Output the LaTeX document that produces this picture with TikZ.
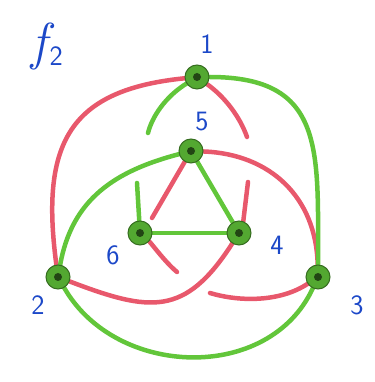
\documentclass[tikz,border=0pt]{standalone}
\usepackage{fontspec}
\usepackage{tikz}
\usetikzlibrary{backgrounds}
\definecolor{knotred}{RGB}{232, 88, 108}
\definecolor{knotgreen}{RGB}{98, 198, 58}
\definecolor{inkblue}{RGB}{28, 72, 200}

\begin{document}
\begin{tikzpicture}[
  x=1pt, y=1pt,
  vertex/.style={
    circle, inner sep=0pt, minimum size=24pt,
    fill=knotgreen!85!black, draw=knotgreen!55!black, line width=1pt
  },
  hub/.style={circle, inner sep=0pt, minimum size=8pt, fill=knotgreen!35!black},
  num/.style={text=inkblue, font=\sffamily\fontsize{28}{28}\selectfont},
  redline/.style={draw=knotred, line width=4.5pt, line cap=round},
  greenline/.style={draw=knotgreen, line width=4.5pt, line cap=round}
]
\useasboundingbox (0,0) rectangle (374,382);

\node[vertex] (v1) at (197,305) {};
\node[vertex] (v5) at (191,231) {};
\node[vertex] (v6) at (140,149) {};
\node[vertex] (v4) at (239,149) {};
\node[vertex] (v2) at (58,105) {};
\node[vertex] (v3) at (318,105) {};
\foreach \v in {v1,v5,v6,v4,v2,v3}
  \node[hub] at (\v) {};

\node[num] (l1) at (207,338) {1};
\node[num] (l5) at (202,260) {5};
\node[num] (l6) at (113,127) {6};
\node[num] (l4) at (277,137) {4};
\node[num] (l2) at (38,77)   {2};
\node[num] (l3) at (357,77)  {3};
\node[text=inkblue, inner sep=0pt] (title) at (47,335)
  {\fontsize{52}{52}\selectfont\itshape f\kern3pt\raisebox{-6pt}{\upshape\sffamily\fontsize{28}{28}\selectfont 2}};

\coordinate (r1e) at (247,245);
\coordinate (r5e) at (152,164);
\coordinate (r6e) at (177,110);
\coordinate (r4e) at (248,200);
\coordinate (r3e) at (210,89);
\coordinate (g1e) at (148,249);
\coordinate (g6e) at (137,199);

\begin{scope}[on background layer]
  % red strands
  \draw[redline] (v1) .. controls (70,292) and (40,240) .. (v2);
  \draw[redline] (v1) .. controls (225,285) and (240,265) .. (r1e);
  \draw[redline] (v5) .. controls (270,228) and (316,185) .. (v3);
  \draw[redline] (v5) -- (r5e);
  \draw[redline] (v6) .. controls (152,138) and (165,120) .. (r6e);
  \draw[redline] (v2) .. controls (150,70) and (185,65) .. (v4);
  \draw[redline] (v4.70) -- (r4e);
  \draw[redline] (v3) .. controls (280,80) and (240,80) .. (r3e);
  % green strands
  \draw[greenline] (v1) .. controls (325,305) and (318,233) .. (v3);
  \draw[greenline] (v1) .. controls (165,285) and (152,265) .. (g1e);
  \draw[greenline] (v5) .. controls (115,211) and (72,183) .. (v2);
  \draw[greenline] (v5) -- (v4);
  \draw[greenline] (v6) -- (v4);
  \draw[greenline] (v6) -- (g6e);
  \draw[greenline] (v2) .. controls (116,4) and (269,-1) .. (v3);
\end{scope}

\end{tikzpicture}
\end{document}
